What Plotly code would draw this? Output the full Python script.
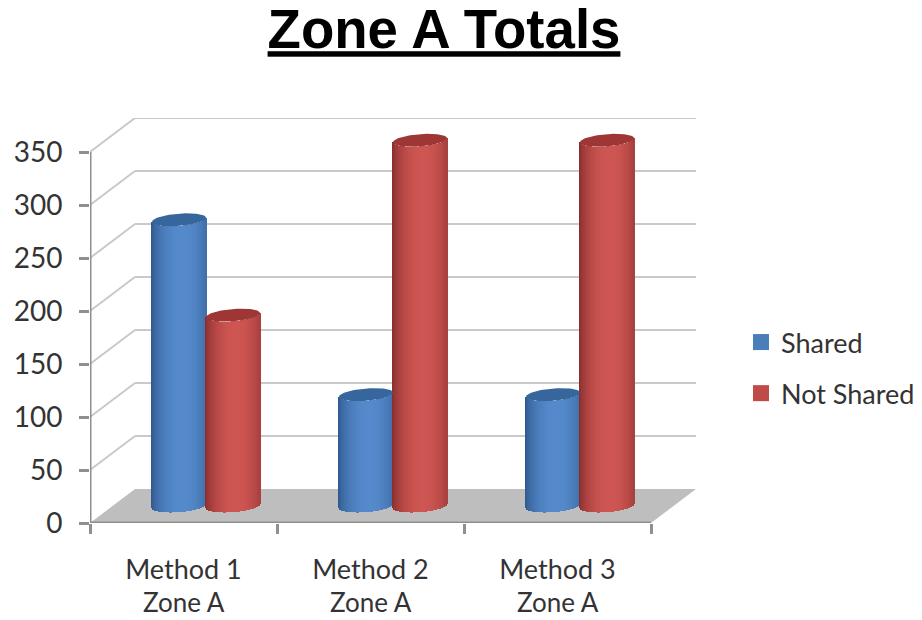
import math
import numpy as np
import plotly.graph_objects as go

# Chart data
METHODS = ["Method 1", "Method 2", "Method 3"]
ZONES = ["Zone A", "Zone A", "Zone A"]
SHARED = [270, 105, 105]
NOT_SHARED = [180, 345, 345]
Y_TICKS = [0, 50, 100, 150, 200, 250, 300, 350]

# Canvas and oblique projection set-up
W, H = 922, 620
L, R, T, B = 90, 225, 118, 97
PX_PER_CAT = 187.0
PX_PER_VAL = 1.06
DX = 45 / PX_PER_CAT          # depth of the box, in category units
DY = 34 / PX_PER_VAL          # depth of the box, in value units
X_MAX = (W - L - R) / PX_PER_CAT
Y_MAX = (H - T - B) / PX_PER_VAL

BAR_W = 54 / PX_PER_CAT
ELL_A = 25.6 / PX_PER_CAT     # cylinder radius along the x direction
ELL_SX = 8.6 / PX_PER_CAT     # receding radius, x component
ELL_SY = 6.5 / PX_PER_VAL     # receding radius, y component
ELL_R = math.hypot(ELL_A, ELL_SX)
ELL_PHI = math.atan2(ELL_SX, ELL_A)

SERIES = [
    ("Shared", SHARED, -0.5, (48, 90, 142), (84, 138, 204), (54, 102, 156), "#4A7EBB"),
    ("Not Shared", NOT_SHARED, 0.5, (136, 46, 46), (206, 86, 82), (158, 54, 54), "#BE4B48"),
]

GRID = "#C9C9C9"
AXIS = "#8F8F8F"
FLOOR = "#BEBEBE"
TEXT = "#333333"
FONT = "Lato"


def shade(dark, light, u):
    """Horizontal cylinder shading; u runs from -1 (left edge) to 1 (right edge)."""
    k = max(0.0, 1 - ((u - 0.12) / 1.12) ** 2) ** 0.8
    return "rgb(%d,%d,%d)" % tuple(round(d + (l - d) * k) for d, l in zip(dark, light))


def lower_edge(off):
    """Height of the front rim of the ellipse at horizontal offset off."""
    s = 2 * math.pi - math.acos(max(-1, min(1, off / ELL_R)))
    return ELL_SY * math.sin(s + ELL_PHI)


fig = go.Figure()
offsets = np.linspace(-ELL_R, ELL_R, 55)
step = offsets[1] - offsets[0]

for name, values, side, dark, light, top, swatch in SERIES:
    for i, value in enumerate(values):
        cx = i + 0.5 + side * BAR_W + DX / 2
        base = DY / 2
        xs = [cx + o for o in offsets]
        bottoms = [base + lower_edge(o) for o in offsets]
        heights = [value] * len(offsets)
        colors = [shade(dark, light, o / ELL_R) for o in offsets]
        fig.add_trace(go.Bar(
            x=xs, y=heights, base=bottoms, width=step * 1.25,
            marker=dict(color=colors, line=dict(width=0)),
            showlegend=False, hoverinfo="skip",
        ))
        t = np.linspace(0, 2 * math.pi, 73)
        fig.add_trace(go.Scatter(
            x=cx + ELL_A * np.cos(t) + ELL_SX * np.sin(t),
            y=base + value + ELL_SY * np.sin(t),
            mode="lines", fill="toself", fillcolor="rgb(%d,%d,%d)" % top,
            line=dict(width=0), showlegend=False, hoverinfo="skip",
        ))

# Legend entries
for name, values, side, dark, light, top, swatch in SERIES:
    fig.add_trace(go.Scatter(
        x=[None], y=[None], mode="markers", name=name, legendgroup=name,
        marker=dict(symbol="square", size=16, color=swatch),
    ))

# Floor, walls and axis lines sit behind the cylinders
shapes = [dict(
    type="path", layer="below", xref="x", yref="y", line=dict(width=0), fillcolor=FLOOR,
    path=f"M 0 0 L 3 0 L {3 + DX} {DY} L {DX} {DY} Z",
)]
for v in Y_TICKS[1:]:
    shapes.append(dict(type="line", layer="below", xref="x", yref="y",
                       x0=0, y0=v, x1=DX, y1=v + DY, line=dict(color=GRID, width=2)))
    shapes.append(dict(type="line", layer="below", xref="x", yref="y",
                       x0=DX, y0=v + DY, x1=3 + DX, y1=v + DY, line=dict(color=GRID, width=2)))
shapes.append(dict(type="line", layer="below", xref="x", yref="y",
                   x0=0, y0=0, x1=0, y1=Y_TICKS[-1], line=dict(color=AXIS, width=3)))
shapes.append(dict(type="line", layer="below", xref="x", yref="y",
                   x0=0, y0=0, x1=3, y1=0, line=dict(color=AXIS, width=3)))

annotations = [dict(
    x=i + 0.5, y=0, xref="x", yref="paper", yanchor="top", yshift=-61,
    text=zone, showarrow=False, font=dict(family=FONT, size=26, color=TEXT),
) for i, zone in enumerate(ZONES)]

fig.update_layout(
    width=W, height=H,
    margin=dict(l=L, r=R, t=T, b=B, pad=0),
    paper_bgcolor="white", plot_bgcolor="white",
    barmode="overlay", bargap=0,
    showlegend=True,
    shapes=shapes, annotations=annotations,
    title=dict(
        text="<b><u>Zone A Totals</u></b>",
        x=444 / W, xanchor="center", y=1 - 10 / H, yanchor="top",
        font=dict(family="Liberation Sans", size=54.6, color="black"),
    ),
    legend=dict(
        xref="container", yref="container",
        x=741 / W, y=1 - 318 / H,
        xanchor="left", yanchor="top", tracegroupgap=13,
        font=dict(family=FONT, size=27, color=TEXT),
        bgcolor="rgba(0,0,0,0)", itemsizing="trace",
    ),
    xaxis=dict(
        range=[0, X_MAX], showgrid=False, zeroline=False, showline=False,
        tickmode="array", tickvals=[0.5, 1.5, 2.5], ticktext=METHODS, ticks="",
        ticklabelstandoff=28,
        tickfont=dict(family=FONT, size=27, color=TEXT),
        minor=dict(tickmode="array", tickvals=[0, 1, 2, 3], ticks="outside",
                   ticklen=10, tickwidth=2.5, tickcolor=AXIS, showgrid=False),
    ),
    yaxis=dict(
        range=[0, Y_MAX], showgrid=False, zeroline=False, showline=False,
        tickmode="array", tickvals=Y_TICKS, ticks="outside",
        ticklen=10, tickwidth=3, tickcolor=AXIS, ticklabelstandoff=11,
        tickfont=dict(family=FONT, size=28, color=TEXT),
    ),
)

fig.write_html("out.html", config=dict(displayModeBar=False))
